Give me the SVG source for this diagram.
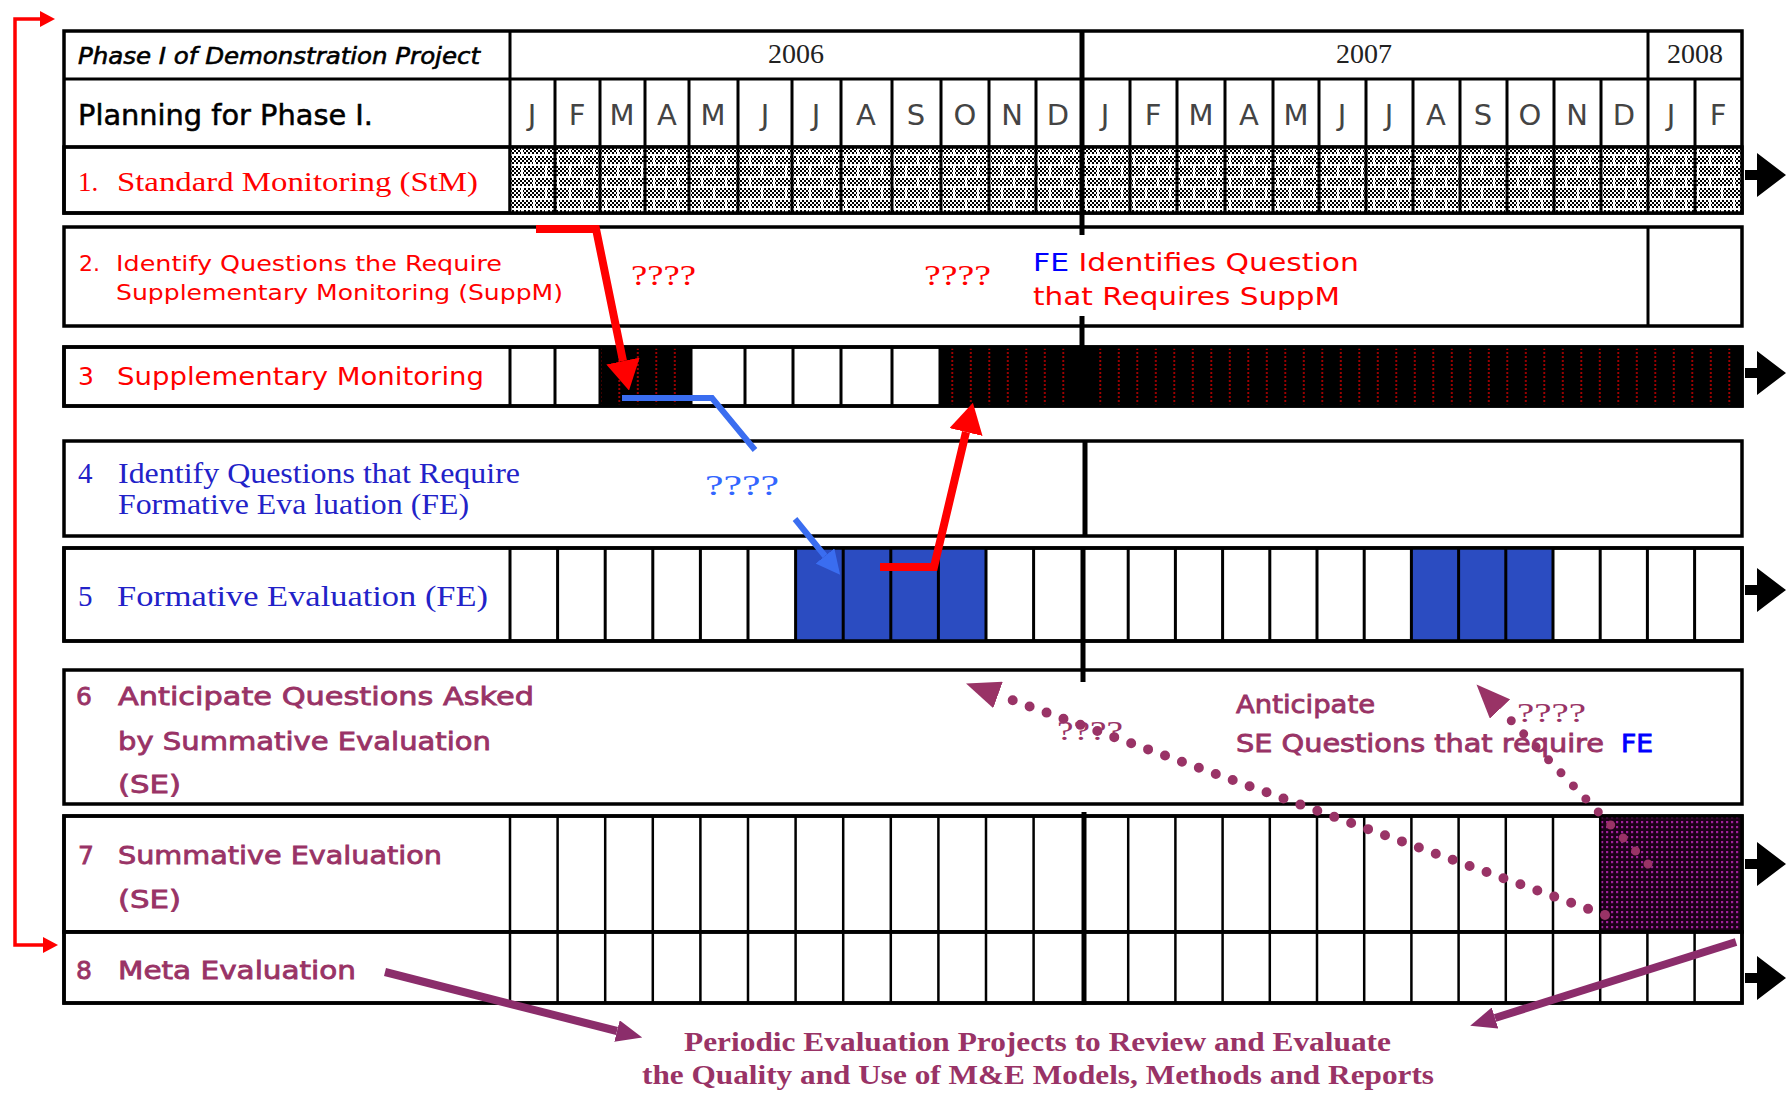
<svg xmlns="http://www.w3.org/2000/svg" width="1788" height="1093" viewBox="0 0 1788 1093">
<style>
.ln{stroke:#000;stroke-width:3;fill:none}
.thin{stroke:#000;stroke-width:2.5;fill:none}
.box{fill:#fff;stroke:#000;stroke-width:3.5}
.div{stroke:#000;stroke-width:5;fill:none}
.comic{font-family:"DejaVu Sans",sans-serif}
.lucida{font-family:"DejaVu Sans",sans-serif}
.serif{font-family:"Liberation Serif",serif}
.red{fill:#ff0000}
.purp{fill:#993366}
.pb{stroke:#993366;stroke-width:0.8}
.navy{fill:#2222c8}
.mon{font-family:"DejaVu Sans",sans-serif;font-size:29px;fill:#444;text-anchor:middle}
.yr{font-family:"Liberation Serif",serif;font-size:28px;fill:#222;text-anchor:middle}
</style>
<defs>
<pattern id="chk" width="4" height="4" patternUnits="userSpaceOnUse">
<rect width="4" height="4" fill="#fff"/>
<rect width="2" height="2" fill="#000"/>
<rect x="2" y="2" width="2" height="2" fill="#000"/>
</pattern>
<pattern id="stm" width="24" height="22" patternUnits="userSpaceOnUse">
<rect width="24" height="22" fill="url(#chk)"/>
<path d="M0 1H24M0 11H24M6 1V11M18 11V22" stroke="#fff" stroke-width="2" fill="none"/>
</pattern>
<pattern id="supp" width="18.5" height="4" patternUnits="userSpaceOnUse">
<rect width="18.5" height="4" fill="#000"/>
<rect x="8" y="0" width="1.6" height="2" fill="#c00000"/>
</pattern>
<pattern id="se" width="5" height="5" patternUnits="userSpaceOnUse">
<rect width="5" height="5" fill="#1c0018"/>
<rect x="1" y="1" width="2.2" height="2.2" fill="#a0209a"/>
</pattern>
<marker id="hRed" viewBox="0 -17 30 34" refX="0" refY="0" markerWidth="30" markerHeight="34" markerUnits="userSpaceOnUse" orient="auto">
<path d="M0-17L30 0L0 17z" fill="#ff0000"/>
</marker>
<marker id="hBlue" viewBox="0 -12 24 24" refX="0" refY="0" markerWidth="24" markerHeight="24" markerUnits="userSpaceOnUse" orient="auto">
<path d="M0-12L24 0L0 12z" fill="#3a6df0"/>
</marker>
<marker id="hDot" viewBox="0 -14 34 28" refX="0" refY="0" markerWidth="34" markerHeight="28" markerUnits="userSpaceOnUse" orient="auto">
<path d="M0-14L34 0L0 14z" fill="#993366"/>
</marker>
<marker id="hMeta" viewBox="0 -11 26 22" refX="0" refY="0" markerWidth="26" markerHeight="22" markerUnits="userSpaceOnUse" orient="auto">
<path d="M0-11L26 0L0 11z" fill="#8b2d6b"/>
</marker>
</defs>
<rect width="1788" height="1093" fill="#fff"/>

<!-- Header -->
<g id="header">
<rect class="box" x="64" y="31" width="1678" height="182"/>
<path class="ln" d="M64 79H1742M64 147H1742M510 31V213M1648 31V213"/>
<path class="ln" d="M555 79V147M600 79V147M645 79V147M689 79V147M738 79V147M792 79V147M841 79V147M892 79V147M941 79V147M989 79V147M1036 79V147M1130 79V147M1177 79V147M1225 79V147M1273 79V147M1319 79V147M1366 79V147M1413 79V147M1460 79V147M1507 79V147M1554 79V147M1601 79V147M1695 79V147"/>
<text class="comic" x="78" y="64" font-size="23" font-style="italic" stroke="#000" stroke-width="0.6" textLength="402" lengthAdjust="spacingAndGlyphs">Phase I of Demonstration Project</text>
<text class="comic" x="78" y="125" font-size="28" stroke="#000" stroke-width="0.5" textLength="295" lengthAdjust="spacingAndGlyphs">Planning for Phase I.</text>
<text class="yr" x="796" y="63">2006</text>
<text class="yr" x="1364" y="63">2007</text>
<text class="yr" x="1695" y="63">2008</text>
<text class="mon" x="532" y="125">J</text><text class="mon" x="577" y="125">F</text><text class="mon" x="622" y="125">M</text><text class="mon" x="667" y="125">A</text><text class="mon" x="713" y="125">M</text><text class="mon" x="765" y="125">J</text><text class="mon" x="816" y="125">J</text><text class="mon" x="866" y="125">A</text><text class="mon" x="916" y="125">S</text><text class="mon" x="965" y="125">O</text><text class="mon" x="1012" y="125">N</text><text class="mon" x="1058" y="125">D</text>
<text class="mon" x="1105" y="125">J</text><text class="mon" x="1153" y="125">F</text><text class="mon" x="1201" y="125">M</text><text class="mon" x="1249" y="125">A</text><text class="mon" x="1296" y="125">M</text><text class="mon" x="1342" y="125">J</text><text class="mon" x="1389" y="125">J</text><text class="mon" x="1436" y="125">A</text><text class="mon" x="1483" y="125">S</text><text class="mon" x="1530" y="125">O</text><text class="mon" x="1577" y="125">N</text><text class="mon" x="1624" y="125">D</text><text class="mon" x="1671" y="125">J</text><text class="mon" x="1718" y="125">F</text>
</g>

<!-- Row 1 -->
<g id="row1">
<rect x="510" y="147" width="1232" height="66" fill="url(#stm)"/>
<path class="ln" d="M555 147V213M600 147V213M645 147V213M689 147V213M738 147V213M792 147V213M841 147V213M892 147V213M941 147V213M989 147V213M1036 147V213M1130 147V213M1177 147V213M1225 147V213M1273 147V213M1319 147V213M1366 147V213M1413 147V213M1460 147V213M1507 147V213M1554 147V213M1601 147V213M1648 147V213M1695 147V213"/>
<rect x="64" y="147" width="1678" height="66" fill="none" stroke="#000" stroke-width="3.5"/>
<path class="ln" d="M510 147V213"/>
<text class="serif red" x="78" y="191" font-size="27">1.</text>
<text class="serif red" x="117" y="191" font-size="27" textLength="361" lengthAdjust="spacingAndGlyphs">Standard Monitoring (StM)</text>
</g>

<!-- Row 2 -->
<g id="row2">
<rect class="box" x="64" y="227" width="1678" height="99"/>
<path class="ln" d="M1648 227V326"/>
<text class="lucida red" x="79" y="271" font-size="22">2.</text>
<text class="lucida red" x="116" y="271" font-size="22" textLength="386" lengthAdjust="spacingAndGlyphs">Identify Questions the Require</text>
<text class="lucida red" x="116" y="300" font-size="22" textLength="447" lengthAdjust="spacingAndGlyphs">Supplementary Monitoring (SuppM)</text>
<text class="serif red" x="631" y="285" font-size="30" textLength="65" lengthAdjust="spacingAndGlyphs">????</text>
<text class="serif red" x="924" y="285" font-size="30" textLength="67" lengthAdjust="spacingAndGlyphs">????</text>
<text class="lucida" x="1033" y="271" font-size="25" textLength="326" lengthAdjust="spacingAndGlyphs"><tspan fill="#0000ff">FE</tspan><tspan fill="#ff0000"> Identifies Question</tspan></text>
<text class="lucida red" x="1033" y="305" font-size="25" textLength="307" lengthAdjust="spacingAndGlyphs">that Requires SuppM</text>
</g>

<!-- Row 3 -->
<g id="row3">
<rect class="box" x="64" y="347" width="1678" height="59"/>
<rect x="600" y="347" width="91" height="59" fill="url(#supp)"/>
<rect x="940" y="347" width="802" height="59" fill="url(#supp)"/>
<path class="ln" d="M510 347V406M555 347V406M600 347V406M691 347V406M745 347V406M793 347V406M841 347V406M892 347V406M940 347V406"/>
<rect x="64" y="347" width="1678" height="59" fill="none" stroke="#000" stroke-width="3.5"/>
<text class="lucida red" x="78" y="385" font-size="25">3</text>
<text class="lucida red" x="117" y="385" font-size="25" textLength="367" lengthAdjust="spacingAndGlyphs">Supplementary Monitoring</text>
</g>

<!-- Row 4 -->
<g id="row4">
<rect class="box" x="64" y="441" width="1678" height="95"/>
<text class="serif navy" x="78" y="483" font-size="29">4</text>
<text class="serif navy" x="118" y="483" font-size="29" textLength="402" lengthAdjust="spacingAndGlyphs">Identify Questions that Require</text>
<text class="serif navy" x="118" y="514" font-size="29" textLength="351" lengthAdjust="spacingAndGlyphs">Formative Eva luation (FE)</text>
<text class="serif" x="705" y="495" font-size="30" fill="#3366ff" textLength="74" lengthAdjust="spacingAndGlyphs">????</text>
</g>

<!-- Row 5 -->
<g id="row5">
<rect class="box" x="64" y="548" width="1678" height="93"/>
<rect x="795.6" y="548" width="190.4" height="93" fill="#2b4cc1"/>
<rect x="1411.4" y="548" width="141.6" height="93" fill="#2b4cc1"/>
<path class="ln" d="M510 548V641M557.6 548V641M605.2 548V641M652.8 548V641M700.4 548V641M748 548V641M795.6 548V641M843.2 548V641M890.8 548V641M938.4 548V641M986 548V641M1033.6 548V641M1128.2 548V641M1175.4 548V641M1222.6 548V641M1269.8 548V641M1317 548V641M1364.2 548V641M1411.4 548V641M1458.6 548V641M1505.8 548V641M1553 548V641M1600.2 548V641M1647.4 548V641M1694.6 548V641"/>
<rect x="64" y="548" width="1678" height="93" fill="none" stroke="#000" stroke-width="3.5"/>
<text class="serif navy" x="78" y="606" font-size="29">5</text>
<text class="serif navy" x="117" y="606" font-size="29" textLength="371" lengthAdjust="spacingAndGlyphs">Formative Evaluation (FE)</text>
</g>

<!-- Row 6 -->
<g id="row6">
<rect class="box" x="64" y="670" width="1678" height="134"/>
<text class="comic purp pb" x="76" y="705" font-size="25">6</text>
<text class="comic purp pb" x="118" y="705" font-size="25" textLength="416" lengthAdjust="spacingAndGlyphs">Anticipate Questions Asked</text>
<text class="comic purp pb" x="118" y="750" font-size="25" textLength="373" lengthAdjust="spacingAndGlyphs">by Summative Evaluation</text>
<text class="comic purp pb" x="118" y="793" font-size="25" textLength="63" lengthAdjust="spacingAndGlyphs">(SE)</text>
<text class="comic purp pb" x="1236" y="713" font-size="24" textLength="139" lengthAdjust="spacingAndGlyphs">Anticipate</text>
<text class="comic purp pb" x="1236" y="752" font-size="24" textLength="368" lengthAdjust="spacingAndGlyphs">SE Questions that require</text>
<text class="comic" x="1621" y="752" font-size="24" fill="#0000ff" stroke="#0000ff" stroke-width="0.8" textLength="32" lengthAdjust="spacingAndGlyphs">FE</text>
<text class="serif purp" x="1517" y="722" font-size="28" textLength="69" lengthAdjust="spacingAndGlyphs">????</text>
<text class="serif purp" x="1057" y="740" font-size="28" textLength="66" lengthAdjust="spacingAndGlyphs">????</text>
</g>

<!-- Row 7 -->
<g id="row7">
<rect class="box" x="64" y="816" width="1678" height="116"/>
<rect x="1600.2" y="816" width="141.8" height="116" fill="url(#se)"/>
<path class="thin" d="M510 816V932M557.6 816V932M605.2 816V932M652.8 816V932M700.4 816V932M748 816V932M795.6 816V932M843.2 816V932M890.8 816V932M938.4 816V932M986 816V932M1033.6 816V932M1128.2 816V932M1175.4 816V932M1222.6 816V932M1269.8 816V932M1317 816V932M1364.2 816V932M1411.4 816V932M1458.6 816V932M1505.8 816V932M1553 816V932M1600.2 816V932"/>
<rect x="64" y="816" width="1678" height="116" fill="none" stroke="#000" stroke-width="3.5"/>
<text class="comic purp pb" x="78" y="864" font-size="25">7</text>
<text class="comic purp pb" x="118" y="864" font-size="25" textLength="324" lengthAdjust="spacingAndGlyphs">Summative Evaluation</text>
<text class="comic purp pb" x="118" y="908" font-size="25" textLength="63" lengthAdjust="spacingAndGlyphs">(SE)</text>
</g>

<!-- Row 8 -->
<g id="row8">
<rect class="box" x="64" y="932" width="1678" height="71"/>
<path class="thin" d="M510 932V1003M557.6 932V1003M605.2 932V1003M652.8 932V1003M700.4 932V1003M748 932V1003M795.6 932V1003M843.2 932V1003M890.8 932V1003M938.4 932V1003M986 932V1003M1033.6 932V1003M1128.2 932V1003M1175.4 932V1003M1222.6 932V1003M1269.8 932V1003M1317 932V1003M1364.2 932V1003M1411.4 932V1003M1458.6 932V1003M1505.8 932V1003M1553 932V1003M1600.2 932V1003M1647.4 932V1003M1694.6 932V1003"/>
<rect x="64" y="932" width="1678" height="71" fill="none" stroke="#000" stroke-width="3.5"/>
<text class="comic purp pb" x="76" y="979" font-size="25">8</text>
<text class="comic purp pb" x="118" y="979" font-size="25" textLength="238" lengthAdjust="spacingAndGlyphs">Meta Evaluation</text>
</g>

<!-- Year divider -->
<g id="divider">
<path class="div" d="M1082 31V235M1082 316V406M1085 441V536M1083 548V682M1084 812V1005"/>
</g>

<!-- Bottom note -->
<g id="note">
<text class="serif purp" x="684" y="1051" font-size="28" font-weight="bold" textLength="707" lengthAdjust="spacingAndGlyphs">Periodic Evaluation Projects to Review and Evaluate</text>
<text class="serif purp" x="642" y="1084" font-size="28" font-weight="bold" textLength="792" lengthAdjust="spacingAndGlyphs">the Quality and Use of M&amp;E Models, Methods and Reports</text>
</g>

<!-- Connectors -->
<g id="connectors">
<path d="M40 19H15V945H43" stroke="#ff0000" stroke-width="3.5" fill="none"/>
<path d="M40 11L55 19L40 27z" fill="#ff0000"/>
<path d="M43 937L58 945L43 953z" fill="#ff0000"/>
<path d="M536 229H596L623 361" stroke="#ff0000" stroke-width="8" fill="none" stroke-linejoin="miter" marker-end="url(#hRed)"/>
<path d="M880 567H934L966 432" stroke="#ff0000" stroke-width="8" fill="none" marker-end="url(#hRed)"/>
<path d="M622 398H712L755 450" stroke="#3a6df0" stroke-width="6" fill="none"/>
<path d="M795 519L825 556" stroke="#3a6df0" stroke-width="6" fill="none" marker-end="url(#hBlue)"/>
<path d="M1605 915L998 695" stroke="#993366" stroke-width="10" stroke-linecap="round" stroke-dasharray="0 18" fill="none" marker-end="url(#hDot)"/>
<path d="M1648 864L1500 709" stroke="#993366" stroke-width="9" stroke-linecap="round" stroke-dasharray="0 18" fill="none" marker-end="url(#hDot)"/>
<path d="M385 972L617 1031" stroke="#8b2d6b" stroke-width="8" fill="none" marker-end="url(#hMeta)"/>
<path d="M1736 942L1495 1018" stroke="#8b2d6b" stroke-width="8" fill="none" marker-end="url(#hMeta)"/>
<g fill="#000">
<path d="M1745 170h12v-17l29 22-29 22v-17h-12z"/>
<path d="M1745 368h12v-17l29 22-29 22v-17h-12z"/>
<path d="M1745 585h12v-17l29 22-29 22v-17h-12z"/>
<path d="M1745 859h12v-17l29 22-29 22v-17h-12z"/>
<path d="M1745 973h12v-17l29 22-29 22v-17h-12z"/>
</g>
</g>
</svg>
